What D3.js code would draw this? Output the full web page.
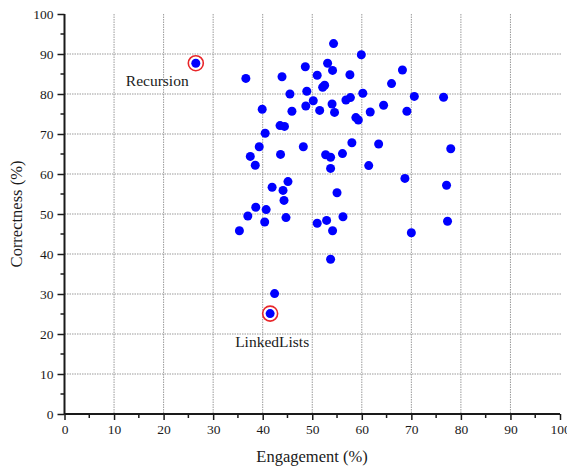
<!DOCTYPE html>
<html>
<head>
<meta charset="utf-8">
<script src="https://cdn.jsdelivr.net/npm/d3@7"></script>
<style>
  html, body { margin: 0; padding: 0; background: #fff; }
  svg { display: block; }
  svg text { font-family: "Liberation Serif", "Times New Roman", serif !important; fill: #1a1a1a; }
</style>
</head>
<body>
<svg id="chart" width="567" height="466"></svg>
<script>
// Engagement (%) and correctness (%) per topic
const engagement = [
  26.5, 36.6, 43.9, 48.6, 54.3, 59.9, 53.1, 54.1, 51.0, 57.6,
  52.5, 52.1, 48.9, 45.5, 60.2, 50.2, 39.9, 45.9, 48.7, 51.5,
  54.0, 54.5, 56.8, 57.7, 61.7, 58.8, 59.3, 43.5, 44.4, 40.5,
  39.3, 48.2, 58.0, 63.4, 37.5, 43.6, 52.7, 53.7, 56.1, 38.5,
  53.7, 61.4, 41.9, 44.1, 45.1, 55.0, 68.2, 66.0, 70.6, 76.5,
  64.4, 69.1, 77.95, 68.7, 77.1, 44.3, 38.6, 40.7, 37.0, 44.7,
  40.4, 35.3, 51.0, 52.9, 56.2, 54.1, 53.7, 42.4, 77.3, 70.0,
  41.5
];
const correctness = [
  87.7, 83.9, 84.3, 86.8, 92.6, 89.8, 87.7, 85.9, 84.7, 84.8,
  82.2, 81.7, 80.7, 80.0, 80.2, 78.3, 76.2, 75.7, 77.0, 75.9,
  77.5, 75.4, 78.5, 79.1, 75.5, 74.1, 73.5, 72.1, 71.9, 70.2,
  66.8, 66.8, 67.8, 67.5, 64.4, 64.9, 64.8, 64.2, 65.1, 62.2,
  61.4, 62.1, 56.7, 55.9, 58.1, 55.3, 86.0, 82.6, 79.4, 79.2,
  77.2, 75.7, 66.3, 58.9, 57.2, 53.4, 51.7, 51.1, 49.5, 49.1,
  48.0, 45.8, 47.7, 48.4, 49.3, 45.8, 38.7, 30.1, 48.2, 45.3,
  25.1
];
// Topics singled out with a ring and a name
const highlightNames = ["Recursion", "LinkedLists"];
const highlightIndex = [0, 70];

const xTicks = [0, 10, 20, 30, 40, 50, 60, 70, 80, 90, 100];
const yTicks = [0, 10, 20, 30, 40, 50, 60, 70, 80, 90, 100];
const minorTicks = [5, 15, 25, 35, 45, 55, 65, 75, 85, 95];

const serif = "'Liberation Serif', 'Times New Roman', serif";
const svg = d3.select("#chart");
const plotLeft = 64.5, plotRight = 560, plotTop = 14, plotBottom = 414;

const x = d3.scaleLinear().domain([0, 100]).range([plotLeft, plotRight]);
const y = d3.scaleLinear().domain([0, 100]).range([plotBottom, plotTop]);

// dotted grid
const grid = svg.append("g");
grid.selectAll("line.v").data(xTicks.filter(d => d > 0 && d < 100)).join("line")
  .attr("x1", d => x(d)).attr("x2", d => x(d))
  .attr("y1", plotTop).attr("y2", plotBottom)
  .attr("stroke", "#9a9a9a").attr("stroke-width", 1).attr("stroke-dasharray", "1.5,1");
grid.selectAll("line.h").data(yTicks.filter(d => d > 0 && d < 100)).join("line")
  .attr("x1", plotLeft).attr("x2", plotRight + 1)
  .attr("y1", d => y(d)).attr("y2", d => y(d))
  .attr("stroke", "#9a9a9a").attr("stroke-width", 1).attr("stroke-dasharray", "1.5,1");

// axes
const xAxis = svg.append("g").attr("transform", `translate(0,${plotBottom})`)
  .call(d3.axisBottom(x).tickValues(xTicks).tickSize(6).tickPadding(4).tickFormat(d3.format("d")));
const yAxis = svg.append("g").attr("transform", `translate(${plotLeft},0)`)
  .call(d3.axisLeft(y).tickValues(yTicks).tickSize(7).tickPadding(4).tickFormat(d3.format("d")));

// minor ticks
xAxis.selectAll("line.minor").data(minorTicks).join("line").attr("class", "minor")
  .attr("x1", d => x(d)).attr("x2", d => x(d)).attr("y1", 0).attr("y2", 4)
  .attr("stroke", "#1a1a1a").attr("stroke-width", 1.5);
yAxis.selectAll("line.minor").data(minorTicks).join("line").attr("class", "minor")
  .attr("y1", d => y(d)).attr("y2", d => y(d)).attr("x1", 0).attr("x2", -4)
  .attr("stroke", "#1a1a1a").attr("stroke-width", 1.5);

[xAxis, yAxis].forEach(a => {
  a.attr("font-family", serif).attr("font-size", 13.5);
  a.select(".domain").attr("stroke", "#1a1a1a").attr("stroke-width", 2);
  a.selectAll(".tick line").attr("stroke", "#1a1a1a").attr("stroke-width", 1.5);
  a.selectAll(".tick text").style("font-family", serif).style("font-size", "13.5px").attr("fill", "#1a1a1a");
});
xAxis.select(".domain").attr("d", `M${plotLeft},0H${plotRight}`);
yAxis.select(".domain").attr("d", `M0,${plotBottom}V${plotTop}`);

// axis titles
svg.append("text").attr("x", 312).attr("y", 462).attr("text-anchor", "middle")
  .style("font-family", serif).style("font-size", "16.5px").text("Engagement (%)");
svg.append("text").attr("transform", "translate(22,214) rotate(-90)")
  .attr("text-anchor", "middle")
  .style("font-family", serif).style("font-size", "16.5px").text("Correctness (%)");

// points
const idx = d3.range(engagement.length);
svg.append("g").selectAll("circle").data(idx).join("circle")
  .attr("cx", i => x(engagement[i])).attr("cy", i => y(correctness[i]))
  .attr("r", 4.5).attr("fill", "#0000ff");

// highlighted topics
svg.append("g").selectAll("circle").data(highlightIndex).join("circle")
  .attr("cx", i => x(engagement[i])).attr("cy", i => y(correctness[i]))
  .attr("r", 7.5).attr("fill", "none").attr("stroke", "#e8262a").attr("stroke-width", 1.6);

const labelOffsets = [[-70, 23], [-35, 33]];
svg.append("g").selectAll("text").data(highlightIndex).join("text")
  .attr("x", (i, k) => x(engagement[i]) + labelOffsets[k][0])
  .attr("y", (i, k) => y(correctness[i]) + labelOffsets[k][1])
  .style("font-family", serif).style("font-size", "15.5px")
  .text((i, k) => highlightNames[k]);
</script>
</body>
</html>
